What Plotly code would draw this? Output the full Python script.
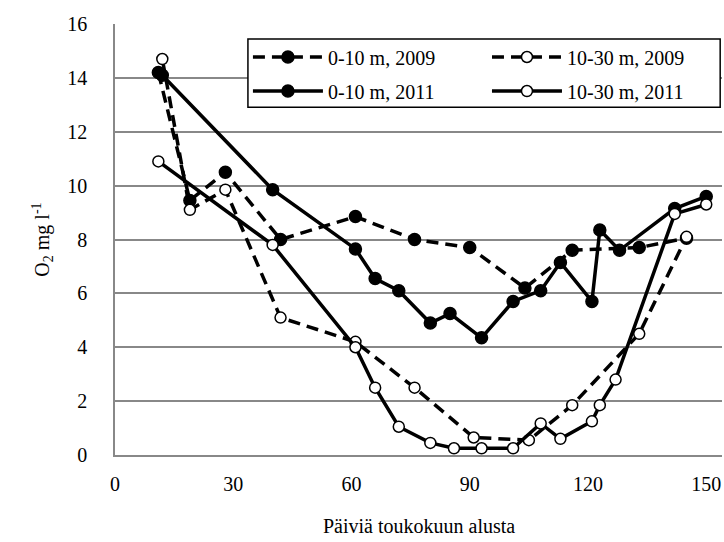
import plotly.graph_objects as go

# 0-10 m, 2009
a_x = [11, 19, 28, 42, 61, 76, 90, 104, 116, 133, 145]
a_y = [14.2, 9.45, 10.5, 8.0, 8.85, 8.0, 7.7, 6.2, 7.6, 7.7, 8.05]
# 10-30 m, 2009
b_x = [12, 19, 28, 42, 61, 76, 91, 105, 116, 133, 145]
b_y = [14.7, 9.1, 9.85, 5.1, 4.2, 2.5, 0.65, 0.55, 1.85, 4.5, 8.1]
# 0-10 m, 2011
c_x = [12, 40, 61, 66, 72, 80, 85, 93, 101, 108, 113, 121, 123, 128, 142, 150]
c_y = [14.1, 9.85, 7.65, 6.55, 6.1, 4.9, 5.25, 4.35, 5.7, 6.1, 7.15, 5.7, 8.35, 7.6, 9.15, 9.6]
# 10-30 m, 2011
d_x = [11, 40, 61, 66, 72, 80, 86, 93, 101, 108, 113, 121, 123, 127, 142, 150]
d_y = [10.9, 7.8, 4.0, 2.5, 1.05, 0.45, 0.25, 0.25, 0.25, 1.17, 0.6, 1.25, 1.85, 2.8, 8.95, 9.3]

x_ticks = [0, 30, 60, 90, 120, 150]
y_ticks = [0, 2, 4, 6, 8, 10, 12, 14, 16]

FONT = "Liberation Serif"
FS = 20
fig = go.Figure()

def add(x, y, name, dashed, filled, legend):
    fig.add_trace(go.Scatter(
        x=x, y=y, name=name, mode="lines+markers", legend=legend,
        line=dict(color="black", width=3.5, dash="12px,7px" if dashed else "solid"),
        marker=dict(symbol="circle", size=12 if filled else 11,
                    color="black" if filled else "white",
                    line=dict(color="black", width=1.5)),
    ))

add(a_x, a_y, "0-10 m, 2009", True, True, "legend")
add(b_x, b_y, "10-30 m, 2009", True, False, "legend2")
add(c_x, c_y, "0-10 m, 2011", False, True, "legend3")
add(d_x, d_y, "10-30 m, 2011", False, False, "legend4")

def leg(x, y):
    return dict(
        x=x, y=y, orientation="h", xanchor="left", yanchor="middle",
        bgcolor="rgba(0,0,0,0)", borderwidth=0, itemwidth=70,
        font=dict(family=FONT, size=FS, color="black"),
    )

fig.update_layout(
    width=724, height=542,
    margin=dict(l=115, r=2, t=24, b=87),
    paper_bgcolor="white", plot_bgcolor="white",
    font=dict(family=FONT, size=FS, color="black"),
    showlegend=True,
    legend=leg(0.219, 0.9234),
    legend2=leg(0.6128, 0.9234),
    legend3=leg(0.219, 0.8445),
    legend4=leg(0.6128, 0.8445),
    xaxis=dict(
        range=[0, 154], tickvals=x_ticks, showgrid=False,
        showline=True, linecolor="#888888", linewidth=1.5,
        ticks="", ticklabelstandoff=10, zeroline=False,
    ),
    yaxis=dict(
        range=[0, 16], tickvals=y_ticks, showgrid=True,
        gridcolor="#888888", gridwidth=1.5,
        showline=True, linecolor="#888888", linewidth=1.5,
        ticks="", ticklabelstandoff=22, zeroline=False,
    ),
    shapes=[
        dict(type="rect", xref="paper", yref="paper",
             x0=0.219, x1=0.997, y0=0.807, y1=0.965,
             line=dict(color="black", width=1.5), fillcolor="white",
             layer="above"),
    ],
    annotations=[
        dict(text="Päiviä toukokuun alusta", xref="paper", yref="paper",
             x=0.5, y=-0.135, xanchor="center", yanchor="top", showarrow=False,
             font=dict(family=FONT, size=FS)),
        dict(text="O<sub>2</sub> mg l<sup>-1</sup>", xref="paper", yref="paper",
             x=-0.12, y=0.5, xanchor="center", yanchor="middle", showarrow=False,
             textangle=-90, font=dict(family=FONT, size=FS)),
    ],
)

fig.write_html("out.html")
